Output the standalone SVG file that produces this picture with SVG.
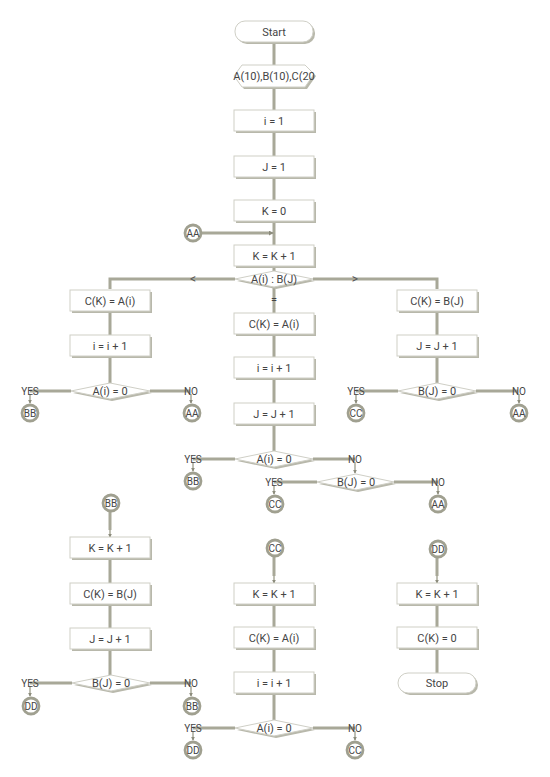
<svg xmlns="http://www.w3.org/2000/svg" width="550" height="777" viewBox="0 0 550 777">
<defs>
<marker id="ah" viewBox="0 0 6 6" refX="5" refY="3" markerWidth="4" markerHeight="4" orient="auto" markerUnits="userSpaceOnUse"><path d="M0,0 L6,3 L0,6 z" fill="#8c8c7c"/></marker>
<marker id="ah2" viewBox="0 0 6 6" refX="5" refY="3" markerWidth="5" markerHeight="5" orient="auto" markerUnits="userSpaceOnUse"><path d="M0,0 L6,3 L0,6 z" fill="#8c8c7c"/></marker>
</defs>
<style>
text{font-family:Roboto,"Liberation Sans",sans-serif;font-size:11px;fill:#444;text-anchor:middle}
.sh{fill:#b8b8ab}
.bx{fill:#fff;stroke:#cfcfc6;stroke-width:1}
.ln{fill:none;stroke:#a8a898;stroke-width:3}
.ar{fill:none;stroke:#a8a898;stroke-width:1.5}
.cr{fill:#fff;stroke:#a0a090;stroke-width:2.8}
.ct{font-size:10px}
.lb{font-size:10px}
.sym{font-size:12px;fill:#555}
</style>
<rect width="550" height="777" fill="#fff"/>
<g id="connectors">
<path class="ln" d="M274,42 V65 M274,87 V110 M274,131 V156 M274,177 V200 M274,222 V245 M274,266 V271"/>
<path class="ln" d="M201,233 H270"/>
<path class="ar" d="M268,233 H273" marker-end="url(#ah2)"/>
<path class="ln" d="M235,279 H110 V289 M313,279 H437 V289 M274,287 V313"/>
<path class="ln" d="M110,311 V335 M110,356 V383 M71,391 H30 M150,391 H190"/>
<path class="ar" d="M30,394 V403" marker-end="url(#ah)"/>
<path class="ar" d="M191,394 V403" marker-end="url(#ah)"/>
<path class="ln" d="M437,311 V335 M437,356 V383 M398,391 H356 M476,391 H518"/>
<path class="ar" d="M356,394 V403" marker-end="url(#ah)"/>
<path class="ar" d="M519,394 V403" marker-end="url(#ah)"/>
<path class="ln" d="M274,334 V357 M274,378 V403 M274,424 V451 M235,459 H193 M313,459 H355"/>
<path class="ar" d="M193,462 V471" marker-end="url(#ah)"/>
<path class="ar" d="M355,462 V473" marker-end="url(#ah)"/>
<path class="ln" d="M317,482 H274 M394,482 H438"/>
<path class="ar" d="M274,485 V494" marker-end="url(#ah)"/>
<path class="ar" d="M438,485 V494" marker-end="url(#ah)"/>
<path class="ln" d="M110,512 V530"/>
<path class="ar" d="M110,528 V537" marker-end="url(#ah)"/>
<path class="ln" d="M110,558 V583 M110,603 V628 M110,648 V675 M72,683 H30 M150,683 H191"/>
<path class="ar" d="M30,686 V696" marker-end="url(#ah)"/>
<path class="ar" d="M191,686 V696" marker-end="url(#ah)"/>
<path class="ln" d="M274,557 V576"/>
<path class="ar" d="M274,574 V583" marker-end="url(#ah)"/>
<path class="ln" d="M274,603 V627 M274,647 V672 M274,692 V720 M235,728 H193 M313,728 H355"/>
<path class="ar" d="M193,731 V740" marker-end="url(#ah)"/>
<path class="ar" d="M355,731 V740" marker-end="url(#ah)"/>
<path class="ln" d="M437,558 V576"/>
<path class="ar" d="M437,574 V583" marker-end="url(#ah)"/>
<path class="ln" d="M437,603 V627 M437,647 V673"/>
</g>
<g id="start"><rect class="sh" x="237" y="23" width="78" height="21" rx="10"/><rect class="bx" x="235" y="21" width="78" height="21" rx="10"/><text x="274" y="35.5">Start</text></g>
<g id="decl"><polygon class="sh" points="244,67 307,67 316,76 307,89 244,89 236,78"/><polygon class="bx" points="242,65 305,65 314,74 305,87 242,87 234,76"/><text x="274" y="79.5">A(10),B(10),C(20</text></g>
<g id="i1"><rect class="sh" x="236" y="112" width="80" height="21"/><rect class="bx" x="234" y="110" width="80" height="21"/><text x="274" y="124.5">i = 1</text></g>
<g id="j1"><rect class="sh" x="236" y="158" width="80" height="21"/><rect class="bx" x="234" y="156" width="80" height="21"/><text x="274" y="170.5">J = 1</text></g>
<g id="k0"><rect class="sh" x="236" y="202" width="80" height="21"/><rect class="bx" x="234" y="200" width="80" height="21"/><text x="274" y="214.5">K = 0</text></g>
<g id="aa1"><circle class="cr" cx="193" cy="233" r="8"/><text class="ct" x="193" y="236.5">AA</text></g>
<g id="kk1"><rect class="sh" x="236" y="247" width="80" height="21"/><rect class="bx" x="234" y="245" width="80" height="21"/><text x="274" y="259.5">K = K + 1</text></g>
<g id="cmp"><polygon class="sh" points="237,281 276,273 315,281 276,289"/><polygon class="bx" points="235,279 274,271 313,279 274,287"/><text x="274" y="282.5">A(i) : B(J)</text><text class="sym" x="193" y="283">&lt;</text><text class="sym" x="355" y="283">&gt;</text><text x="274" y="303">=</text></g>
<g id="l_ck"><rect class="sh" x="72" y="292" width="80" height="21"/><rect class="bx" x="70" y="290" width="80" height="21"/><text x="110" y="304.5">C(K) = A(i)</text></g>
<g id="l_i"><rect class="sh" x="72" y="337" width="80" height="21"/><rect class="bx" x="70" y="335" width="80" height="21"/><text x="110" y="349.5">i = i + 1</text></g>
<g id="l_d"><polygon class="sh" points="73,393 112,385 152,393 112,401"/><polygon class="bx" points="71,391 110,383 150,391 110,399"/><text x="110" y="394.5">A(i) = 0</text><text class="lb" x="30" y="394.5">YES</text><text class="lb" x="191" y="394.5">NO</text></g>
<g id="l_bb"><circle class="cr" cx="30" cy="413" r="8"/><text class="ct" x="30" y="416.5">BB</text></g>
<g id="l_aa"><circle class="cr" cx="192" cy="413" r="8"/><text class="ct" x="192" y="416.5">AA</text></g>
<g id="r_ck"><rect class="sh" x="399" y="292" width="80" height="21"/><rect class="bx" x="397" y="290" width="80" height="21"/><text x="437" y="304.5">C(K) = B(J)</text></g>
<g id="r_j"><rect class="sh" x="399" y="337" width="80" height="21"/><rect class="bx" x="397" y="335" width="80" height="21"/><text x="437" y="349.5">J = J + 1</text></g>
<g id="r_d"><polygon class="sh" points="400,393 439,385 478,393 439,401"/><polygon class="bx" points="398,391 437,383 476,391 437,399"/><text x="437" y="394.5">B(J) = 0</text><text class="lb" x="356" y="394.5">YES</text><text class="lb" x="519" y="394.5">NO</text></g>
<g id="r_cc"><circle class="cr" cx="356" cy="413" r="8"/><text class="ct" x="356" y="416.5">CC</text></g>
<g id="r_aa"><circle class="cr" cx="519" cy="413" r="8"/><text class="ct" x="519" y="416.5">AA</text></g>
<g id="m_ck"><rect class="sh" x="236" y="315" width="80" height="21"/><rect class="bx" x="234" y="313" width="80" height="21"/><text x="274" y="327.5">C(K) = A(i)</text></g>
<g id="m_i"><rect class="sh" x="236" y="359" width="80" height="21"/><rect class="bx" x="234" y="357" width="80" height="21"/><text x="274" y="371.5">i = i + 1</text></g>
<g id="m_j"><rect class="sh" x="236" y="405" width="80" height="21"/><rect class="bx" x="234" y="403" width="80" height="21"/><text x="274" y="417.5">J = J + 1</text></g>
<g id="m_d"><polygon class="sh" points="237,461 276,453 315,461 276,469"/><polygon class="bx" points="235,459 274,451 313,459 274,467"/><text x="274" y="462.5">A(i) = 0</text><text class="lb" x="193" y="462.5">YES</text><text class="lb" x="355" y="462.5">NO</text></g>
<g id="m_bb"><circle class="cr" cx="193" cy="481" r="8"/><text class="ct" x="193" y="484.5">BB</text></g>
<g id="m_d2"><polygon class="sh" points="319,484 358,476 396,484 358,492"/><polygon class="bx" points="317,482 356,474 394,482 356,490"/><text x="356" y="485.5">B(J) = 0</text><text class="lb" x="274" y="485.5">YES</text><text class="lb" x="438" y="485.5">NO</text></g>
<g id="m_cc"><circle class="cr" cx="275" cy="504" r="8"/><text class="ct" x="275" y="507.5">CC</text></g>
<g id="m_aa"><circle class="cr" cx="438" cy="504" r="8"/><text class="ct" x="438" y="507.5">AA</text></g>
<g id="bb_in"><circle class="cr" cx="111" cy="503" r="8"/><text class="ct" x="111" y="506.5">BB</text></g>
<g id="b1_k"><rect class="sh" x="72" y="539" width="80" height="21"/><rect class="bx" x="70" y="537" width="80" height="21"/><text x="110" y="551.5">K = K + 1</text></g>
<g id="b1_ck"><rect class="sh" x="72" y="585" width="80" height="21"/><rect class="bx" x="70" y="583" width="80" height="21"/><text x="110" y="597.5">C(K) = B(J)</text></g>
<g id="b1_j"><rect class="sh" x="72" y="630" width="80" height="21"/><rect class="bx" x="70" y="628" width="80" height="21"/><text x="110" y="642.5">J = J + 1</text></g>
<g id="b1_d"><polygon class="sh" points="74,685 113,677 152,685 113,693"/><polygon class="bx" points="72,683 111,675 150,683 111,691"/><text x="111" y="686.5">B(J) = 0</text><text class="lb" x="30" y="686.5">YES</text><text class="lb" x="191" y="686.5">NO</text></g>
<g id="b1_dd"><circle class="cr" cx="31" cy="706" r="8"/><text class="ct" x="31" y="709.5">DD</text></g>
<g id="b1_bb"><circle class="cr" cx="192" cy="706" r="8"/><text class="ct" x="192" y="709.5">BB</text></g>
<g id="cc_in"><circle class="cr" cx="275" cy="548" r="8"/><text class="ct" x="275" y="551.5">CC</text></g>
<g id="b2_k"><rect class="sh" x="236" y="585" width="80" height="21"/><rect class="bx" x="234" y="583" width="80" height="21"/><text x="274" y="597.5">K = K + 1</text></g>
<g id="b2_ck"><rect class="sh" x="236" y="629" width="80" height="21"/><rect class="bx" x="234" y="627" width="80" height="21"/><text x="274" y="641.5">C(K) = A(i)</text></g>
<g id="b2_i"><rect class="sh" x="236" y="674" width="80" height="21"/><rect class="bx" x="234" y="672" width="80" height="21"/><text x="274" y="686.5">i = i + 1</text></g>
<g id="b2_d"><polygon class="sh" points="237,730 276,722 315,730 276,738"/><polygon class="bx" points="235,728 274,720 313,728 274,736"/><text x="274" y="731.5">A(i) = 0</text><text class="lb" x="193" y="731.5">YES</text><text class="lb" x="355" y="731.5">NO</text></g>
<g id="b2_dd"><circle class="cr" cx="193" cy="750" r="8"/><text class="ct" x="193" y="753.5">DD</text></g>
<g id="b2_cc"><circle class="cr" cx="355" cy="750" r="8"/><text class="ct" x="355" y="753.5">CC</text></g>
<g id="dd_in"><circle class="cr" cx="438" cy="549" r="8"/><text class="ct" x="438" y="552.5">DD</text></g>
<g id="b3_k"><rect class="sh" x="399" y="585" width="80" height="21"/><rect class="bx" x="397" y="583" width="80" height="21"/><text x="437" y="597.5">K = K + 1</text></g>
<g id="b3_ck"><rect class="sh" x="399" y="629" width="80" height="21"/><rect class="bx" x="397" y="627" width="80" height="21"/><text x="437" y="641.5">C(K) = 0</text></g>
<g id="stop"><rect class="sh" x="400" y="675" width="78" height="20" rx="10"/><rect class="bx" x="398" y="673" width="78" height="20" rx="10"/><text x="437" y="687">Stop</text></g>
</svg>
